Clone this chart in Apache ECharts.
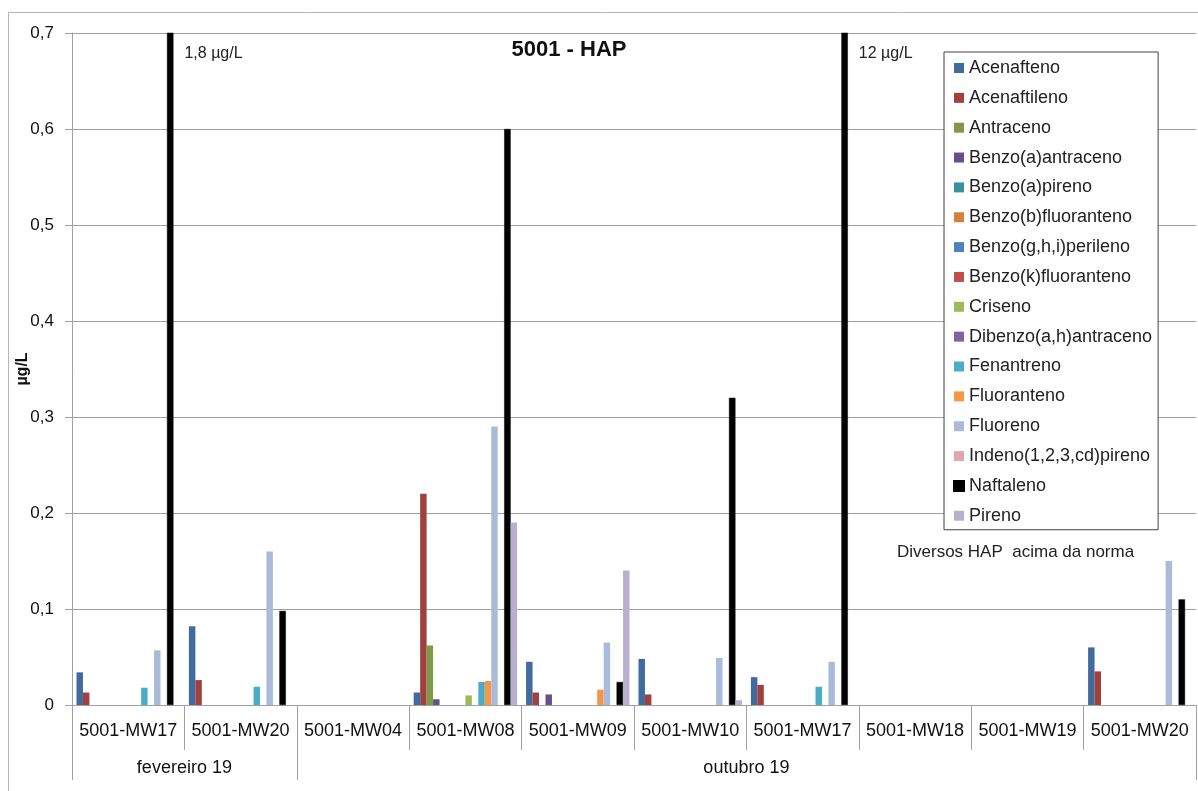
<!DOCTYPE html>
<html><head><meta charset="utf-8">
<script src="https://cdn.jsdelivr.net/npm/echarts@6/dist/echarts.min.js"></script>
<style>html,body{margin:0;padding:0;background:#fff}#c{width:1198px;height:791px}</style>
</head><body><div id="c"></div>
<script>
// ---- data ----
const categories = ['5001-MW17','5001-MW20','5001-MW04','5001-MW08','5001-MW09','5001-MW10','5001-MW17','5001-MW18','5001-MW19','5001-MW20'];
const groupLabels = ['fevereiro 19','outubro 19'];
const groupSizes = [2, 8];
const yTickLabels = ['0','0,1','0,2','0,3','0,4','0,5','0,6','0,7'];
const seriesNames = ['Acenafteno','Acenaftileno','Antraceno','Benzo(a)antraceno','Benzo(a)pireno','Benzo(b)fluoranteno','Benzo(g,h,i)perileno','Benzo(k)fluoranteno','Criseno','Dibenzo(a,h)antraceno','Fenantreno','Fluoranteno','Fluoreno','Indeno(1,2,3,cd)pireno','Naftaleno','Pireno'];
const acenafteno      = [0.034, 0.082, null, 0.013, 0.045, 0.048, 0.029, null, null, 0.060];
const acenaftileno    = [0.013, 0.026, null, 0.220, 0.013, 0.011, 0.021, null, null, 0.035];
const antraceno       = [null, null, null, 0.062, null, null, null, null, null, null];
const benzoAantraceno = [null, null, null, 0.006, 0.011, null, null, null, null, null];
const benzoApireno    = [null, null, null, null, null, null, null, null, null, null];
const benzoBfluor     = [null, null, null, null, null, null, null, null, null, null];
const benzoGHIperileno= [null, null, null, null, null, null, null, null, null, null];
const benzoKfluor     = [null, null, null, null, null, null, null, null, null, null];
const criseno         = [null, null, null, 0.010, null, null, null, null, null, null];
const dibenzo         = [null, null, null, null, null, null, null, null, null, null];
const fenantreno      = [0.018, 0.019, null, 0.024, null, null, 0.019, null, null, null];
const fluoranteno     = [null, null, null, 0.025, 0.016, null, null, null, null, null];
const fluoreno        = [0.057, 0.160, null, 0.290, 0.065, 0.049, 0.045, null, null, 0.150];
const indeno          = [null, null, null, null, null, null, null, null, null, null];
const naftaleno       = [1.8, 0.098, null, 0.600, 0.024, 0.320, 12, null, null, 0.110];
const pireno          = [null, null, null, 0.190, 0.140, 0.005, null, null, null, null];
const seriesValues = [acenafteno, acenaftileno, antraceno, benzoAantraceno, benzoApireno, benzoBfluor, benzoGHIperileno, benzoKfluor, criseno, dibenzo, fenantreno, fluoranteno, fluoreno, indeno, naftaleno, pireno];

// ---- style ----
const colors = ['#3F6B9F','#A0413E','#7E9A48','#664F8A','#3B8FA5','#D5803C','#4F81BD','#C0504D','#9BBB59','#8064A2','#4BACC6','#F79646','#AABBDA','#DBA9A9','#000000','#BAAFCC'];
const FONT = 'Liberation Sans';
const yMax = 0.7;
const gray = '#a0a0a0';

const tickVals = [0]; groupSizes.forEach(s => tickVals.push(tickVals[tickVals.length-1] + s));
const labelVals = groupSizes.map((s, i) => tickVals[i] + s / 2);

const chart = echarts.init(document.getElementById('c'), null, {renderer: 'canvas'});

const series = seriesNames.map((name, i) => ({
  name, type: 'bar', clip: true,
  barGap: '0%', barCategoryGap: '8%',
  itemStyle: i === 14 ? {color: colors[i], borderColor: '#000', borderWidth: 0.5} : {color: colors[i]},
  emphasis: {disabled: true},
  data: seriesValues[i].map(v => (v !== null && v > yMax) ? {
    value: v,
    label: {show: true, position: ['100%', 0], offset: [11, 13],
      formatter: p => String(p.value).replace('.', ',') + ' µg/L',
      fontFamily: FONT, fontSize: 16, color: '#222'}
  } : v)
}));

chart.setOption({
  animation: false,
  backgroundColor: '#fff',
  textStyle: {fontFamily: FONT},
  grid: {left: 72, right: 2, top: 33, bottom: 86, containLabel: false, outerBoundsMode: 'none'},
  legend: {
    data: seriesNames, orient: 'vertical', left: 944, top: 52,
    padding: [7, 6, 5, 9], itemGap: 11.85, itemWidth: 10, itemHeight: 10, icon: 'rect',
    backgroundColor: '#fff', borderColor: '#404040', borderWidth: 1,
    textStyle: {fontFamily: FONT, fontSize: 18, color: '#222'}, z: 10
  },
  xAxis: [{
    type: 'category', data: categories, position: 'bottom',
    axisLine: {show: true, lineStyle: {color: gray}},
    axisTick: {show: true, length: 45, interval: 0, lineStyle: {color: gray}},
    axisLabel: {interval: 0, margin: 17, fontFamily: FONT, fontSize: 18, color: '#111'},
    splitLine: {show: false}
  }, {
    type: 'value', min: 0, max: categories.length, position: 'bottom',
    axisLine: {show: false},
    axisTick: {show: true, length: 75, customValues: tickVals, lineStyle: {color: gray}},
    axisLabel: {show: true, margin: 54, customValues: labelVals, fontFamily: FONT, fontSize: 18, color: '#111',
      formatter: v => { const k = labelVals.indexOf(v); return k >= 0 ? groupLabels[k] : ''; }},
    splitLine: {show: false}
  }],
  yAxis: {
    type: 'value', min: 0, max: yMax, interval: 0.1,
    name: 'µg/L', nameLocation: 'middle', nameRotate: 90, nameGap: 41, nameMoveOverlap: false,
    nameTextStyle: {fontFamily: FONT, fontSize: 16, fontWeight: 'bold', color: '#111'},
    axisLine: {show: true, lineStyle: {color: gray}},
    axisTick: {show: true, length: 7, lineStyle: {color: gray}},
    axisLabel: {margin: 18, fontFamily: FONT, fontSize: 17, color: '#111',
      formatter: v => yTickLabels[Math.round(v * 10)]},
    splitLine: {show: true, lineStyle: {color: gray}}
  },
  graphic: [
    {type: 'rect', shape: {x: 8.5, y: 12.5, width: 1300, height: 900}, style: {fill: 'none', stroke: '#b5b5b5', lineWidth: 1}, silent: true, z: 0},
    {type: 'text', x: 569, y: 50, style: {text: '5001 - HAP', font: 'bold 22px "Liberation Sans"', fill: '#111', textAlign: 'center', textVerticalAlign: 'middle'}, z: 20},
    {type: 'text', x: 897, y: 552, style: {text: 'Diversos HAP  acima da norma', font: '17px "Liberation Sans"', fill: '#222', textAlign: 'left', textVerticalAlign: 'middle'}, z: 20}
  ],
  series
});
</script></body></html>
